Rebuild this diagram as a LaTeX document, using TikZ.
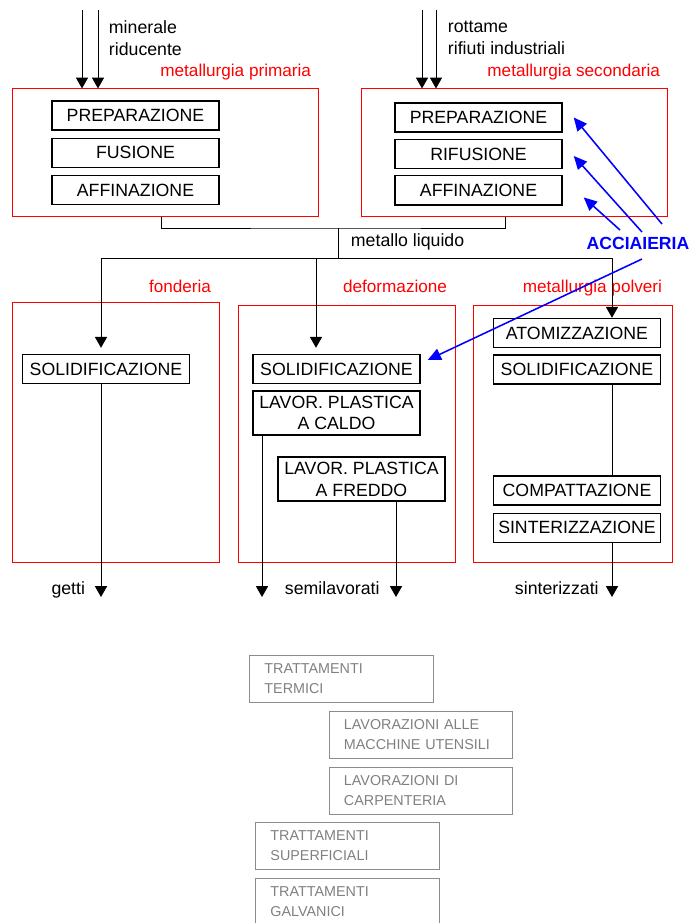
\documentclass[tikz,border=0pt]{standalone}
\usepackage{fontspec}
\setmainfont{Liberation Sans}
\usetikzlibrary{positioning, arrows.meta}
\newcommand{\boxfont}{\fontsize{12.6}{15.5}\selectfont}
\newcommand{\tagfont}{\fontsize{12.2}{15}\selectfont}
\newcommand{\grayfont}{\fontsize{10.2}{14.2}\selectfont}
\definecolor{gbord}{gray}{0.55}
\definecolor{gtext}{gray}{0.5}

\begin{document}
\begin{tikzpicture}[x=0.025cm, y=-0.025cm, font=\boxfont,
        phase/.style={draw, line width=0.9pt, minimum width=4.18cm, minimum height=0.73cm, inner sep=1pt},
        area/.style={draw=red, line width=0.7pt, minimum height=3.175cm},
        tag/.style={text=red, font=\tagfont, anchor=mid east},
        arr/.style={line width=0.7pt, -{Triangle[length=0.27cm, width=0.3cm]}},
        barr/.style={blue, line width=1.1pt, -{Triangle[length=0.33cm, width=0.3cm]}},
        extra/.style={draw=gbord, text=gtext, font=\grayfont, align=left, line width=0.7pt,
            minimum width=4.575cm, minimum height=1.175cm, text width=3.85cm, inner xsep=0.36cm}]
        \useasboundingbox (0,0) rectangle (694,923);
        \clip (0,0) rectangle (694,923);

        \node[area, minimum width=7.625cm] (prim) at (165.5,152.5) {};
        \node[area, minimum width=7.625cm] (sec) at (514.5,152.5) {};
        \node[tag] (tprim) at (316,73) {metallurgia primaria};
        \node[tag] (tsec) at (665,73) {metallurgia secondaria};

        \node[phase] (prep1) at (135.5,115.5) {PREPARAZIONE};
        \node[phase, below = 0.17cm of prep1] (fus1) {FUSIONE};
        \node[phase, below = 0.17cm of fus1] (aff1) {AFFINAZIONE};
        \node[phase] (prep2) at (478.5,117.5) {PREPARAZIONE};
        \node[phase, below = 0.15cm of prep2] (rif2) {RIFUSIONE};
        \node[phase, below = 0.15cm of rif2] (aff2) {AFFINAZIONE};

        \coordinate (min) at (82,10);
        \coordinate (rid) at (98,10);
        \coordinate (rot) at (422,10);
        \coordinate (rif) at (436,10);
        \node[anchor=west, align=left] (inprim) at (104,38) {minerale\\riducente};
        \node[anchor=west, align=left] (insec) at (443,38) {rottame\\rifiuti industriali};
        \draw[arr] (min) -- (min |- prim.north);
        \draw[arr] (rid) -- (rid |- prim.north);
        \draw[arr] (rot) -- (rot |- sec.north);
        \draw[arr] (rif) -- (rif |- sec.north);

        \coordinate (liq) at (338,228);
        \coordinate (split) at (338,258);
        \node[anchor=west] (tliq) at (346,242) {metallo liquido};
        \draw[line width=0.7pt] ([shift={(-4.5,0)}]prim.south) |- (liq) -| ([shift={(-9.5,0)}]sec.south);
        \draw[line width=0.7pt] (liq) -- (split);

        \node[area, minimum width=5.15cm, minimum height=6.475cm] (fond) at (116,432.5) {};
        \node[area, minimum width=5.4cm, minimum height=6.4cm] (defo) at (347,434) {};
        \node[area, minimum width=4.95cm, minimum height=6.4cm] (polv) at (573,434) {};
        \node[tag] (tfond) at (216,289) {fonderia};
        \node[tag] (tdefo) at (452,289) {deformazione};
        \node[tag] (tpolv) at (667,289) {metallurgia polveri};

        \node[phase] (sol1) at (106,369) {SOLIDIFICAZIONE};
        \node[phase] (sol2) at (336.5,369) {SOLIDIFICAZIONE};
        \node[phase, minimum height=1.1cm, align=center, below = 0.15cm of sol2] (cal) {LAVOR. PLASTICA\\A CALDO};
        \node[phase, minimum height=1.1cm, align=center] (fre) at (361.5,479) {LAVOR. PLASTICA\\A FREDDO};
        \node[phase] (atom) at (577,333) {ATOMIZZAZIONE};
        \node[phase, below = 0.15cm of atom] (sol3) {SOLIDIFICAZIONE};
        \node[phase] (comp) at (577,490.5) {COMPATTAZIONE};
        \node[phase, below = 0.17cm of comp] (sint) {SINTERIZZAZIONE};

        \coordinate (fx) at (101,258);
        \coordinate (dx) at (316,258);
        \coordinate (px) at (612,258);
        \draw[line width=0.7pt] (fx) -- (px);
        \draw[arr, shorten >=0.15cm] (fx) -- (fx |- sol1.north);
        \draw[arr, shorten >=0.15cm] (dx) -- (dx |- sol2.north);
        \draw[arr] (px) -- (px |- atom.north);

        \coordinate (o1) at (101,597);
        \coordinate (o2) at (262,597);
        \coordinate (o3) at (396,597);
        \coordinate (o4) at (612,597);
        \draw[arr] (sol1.south -| o1) -- (o1);
        \draw[arr] (cal.south -| o2) -- (o2);
        \draw[arr] (fre.south -| o3) -- (o3);
        \draw[line width=0.7pt] (sol3.south -| o4) -- (comp.north -| o4);
        \draw[arr] (sint.south -| o4) -- (o4);
        \node[anchor=mid east] (getti) at (90,591) {getti};
        \node[anchor=mid west] (semi) at (280,591) {semilavorati};
        \node[anchor=mid west] (sinte) at (510,591) {sinterizzati};

        \node[text=blue, font=\fontsize{12.5}{15}\selectfont\bfseries] (acc) at (638,243) {ACCIAIERIA};
        \draw[barr] ([shift={(24,-19)}]acc.center) -- ([shift={(11,0)}]prep2.east);
        \draw[barr] ([shift={(4,-11)}]acc.center) -- ([shift={(11,2)}]rif2.east);
        \draw[barr] ([shift={(-18,-13)}]acc.center) -- ([shift={(21,7)}]aff2.east);
        \draw[barr] ([shift={(4,16)}]acc.center) -- ([shift={(7,-9)}]sol2.east);

        \node[extra] (term) at (341.5,678.5) {TRATTAMENTI\\TERMICI};
        \node[extra] (macc) at (421,734.5) {LAVORAZIONI ALLE\\MACCHINE UTENSILI};
        \node[extra] (carp) at (421,791) {LAVORAZIONI DI\\CARPENTERIA};
        \node[extra] (superf) at (347.5,846) {TRATTAMENTI\\SUPERFICIALI};
        \node[extra] (galv) at (347.5,901.5) {TRATTAMENTI\\GALVANICI};
\end{tikzpicture}
\end{document}
